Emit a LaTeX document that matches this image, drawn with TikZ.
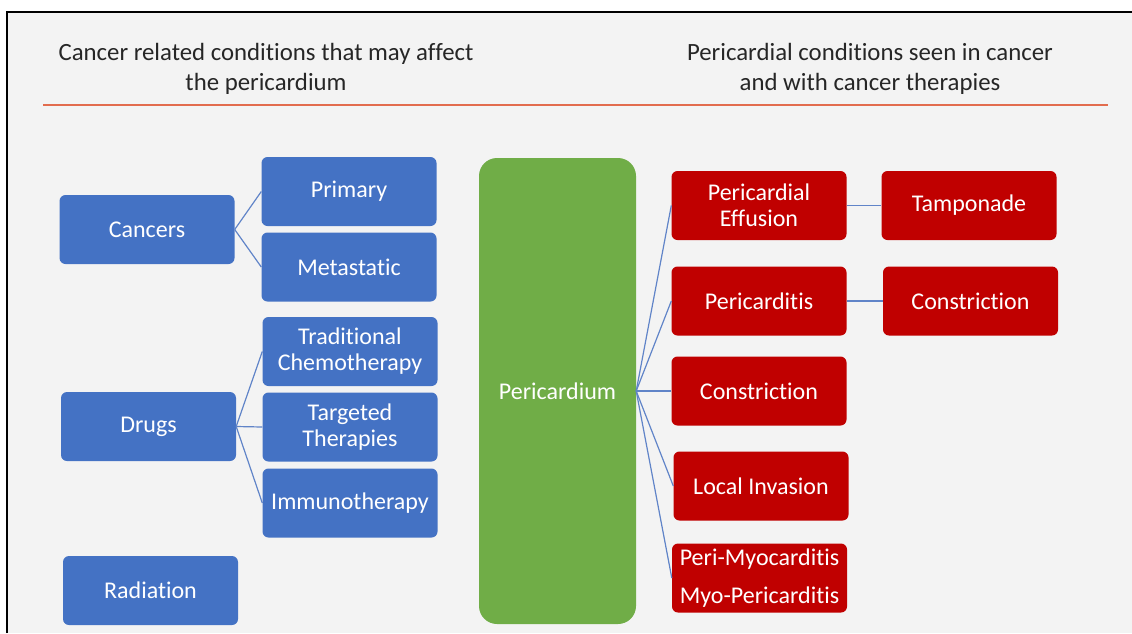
\documentclass[tikz,border=0pt]{standalone}
\usepackage{fontspec}
\setmainfont{Carlito}[Ligatures=NoCommon]
\definecolor{slide}{RGB}{243,243,243}
\definecolor{headertext}{RGB}{38,38,38}
\definecolor{headerrule}{RGB}{226,108,78}
\definecolor{cause}{RGB}{68,114,196}
\definecolor{pericardium}{RGB}{112,173,71}
\definecolor{condition}{RGB}{192,0,0}
\definecolor{branch}{RGB}{96,132,200}

\begin{document}
\begin{tikzpicture}[x=1pt, y=-1pt]
            \tikzstyle{every node} = [font=\fontsize{24}{26}\selectfont, align=center, inner sep=0pt]
            \tikzstyle{header} = [text=headertext, font=\fontsize{24.8}{30}\selectfont]
            \tikzstyle{box} = [rounded corners=6pt, text=white, minimum width=175pt, minimum height=69pt]
            \tikzstyle{causebox} = [box, fill=cause]
            \tikzstyle{conditionbox} = [box, fill=condition]
            \tikzstyle{branchline} = [draw=branch, line width=1.2pt]

            \useasboundingbox (0,0) rectangle (1132,633);
            \fill[white] (0,0) rectangle (1132,633);
            \fill[slide] (7,12) rectangle (1132,633);
            \draw[line width=1.5pt] (7,633) -- (7,12) -- (1132,12);

            \node[header] (causes title) at (266,69)
                {Cancer related conditions that may affect\\the pericardium};
            \node[header] (conditions title) at (870,69)
                {Pericardial conditions seen in cancer\\and with cancer therapies};
            \draw[headerrule, line width=2pt] (43,105) -- (1108,105);

            \node[causebox] (cancers) at (147,229.5) {Cancers};
            \node[causebox] (primary) at (349,191.5) {Primary};
            \node[causebox] (metastatic) at (349,267) {Metastatic};
            \node[causebox] (drugs) at (148.5,426.5) {Drugs};
            \node[causebox] (chemo) at (350,351.5) {Traditional\\Chemotherapy};
            \node[causebox] (targeted) at (350,427) {Targeted\\Therapies};
            \node[causebox] (immuno) at (350,503) {Immunotherapy};
            \node[causebox] (radiation) at (150.5,590.5) {Radiation};

            \node[fill=pericardium, rounded corners=18pt, text=white, minimum width=157pt,
                minimum height=466pt] (pericardium) at (557.5,391) {Pericardium};

            \node[conditionbox] (effusion) at (759,205.5) {Pericardial\\Effusion};
            \node[conditionbox] (pericarditis) at (759,301) {Pericarditis};
            \node[conditionbox] (constriction) at (759,391) {Constriction};
            \node[conditionbox] (invasion) at (761,486) {Local Invasion};
            \node[conditionbox] (myocarditis) at (759.5,578) {Peri-Myocarditis\\[12pt]Myo-Pericarditis};
            \node[conditionbox] (tamponade) at (969,205.5) {Tamponade};
            \node[conditionbox] (late constriction) at (970.5,301) {Constriction};

            \foreach \child in {primary, metastatic}
                \draw[branchline] (cancers.east) -- (\child.west);
            \foreach \child in {chemo, targeted, immuno}
                \draw[branchline] (drugs.east) -- (\child.west);
            \foreach \child in {effusion, pericarditis, constriction, invasion, myocarditis}
                \draw[branchline] (pericardium.east) -- (\child.west);
            \draw[branchline] (effusion.east) -- (tamponade.west);
            \draw[branchline] (pericarditis.east) -- (late constriction.west);
        \end{tikzpicture}
\end{document}
